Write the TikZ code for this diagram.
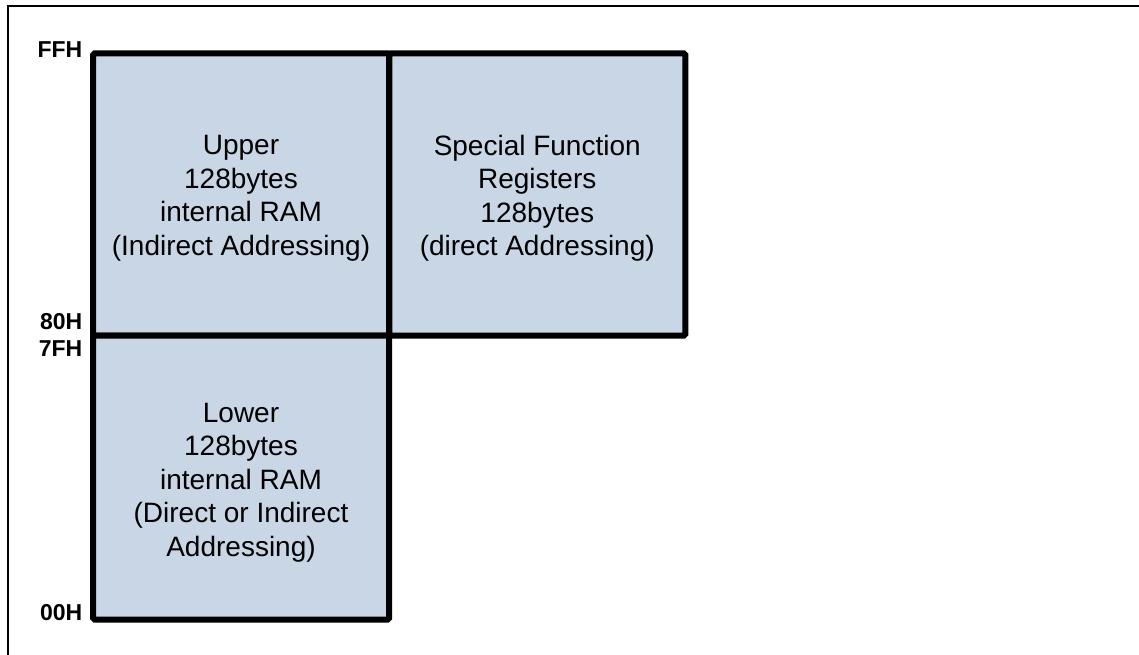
\documentclass[tikz,border=0pt]{standalone}
\usepackage{fontspec}
\setmainfont{Liberation Sans}
\definecolor{memfill}{RGB}{201,214,229}
\begin{document}
\begin{tikzpicture}[x=1pt,y=-1pt,
  membox/.style={draw=black, line width=6pt, fill=memfill, rounded corners=1.5pt,
    inner sep=0pt, minimum width=296pt},
  memtext/.style={align=center, inner sep=0pt,
    font=\fontsize{28}{33.5}\selectfont, text=black},
  addr/.style={anchor=base east, inner sep=0pt, font=\fontsize{23}{26}\selectfont\bfseries}]
\useasboundingbox (0,0) rectangle (1139,655);
% frame (only top and left edges visible)
\coordinate (fbl) at (7.5,655);
\coordinate (ftl) at (7.5,6.5);
\coordinate (ftr) at (1139,6.5);
\draw[line width=2pt] (fbl) -- (ftl) -- (ftr);
% memory blocks
\node[membox, minimum height=282pt] (upper) at (241,194.5) {};
\node[membox, minimum height=282pt] (sfr) at (537.25,194.5) {};
\node[membox, minimum height=284pt] (lower) at (241,477.5) {};
\node[memtext] (uppertxt) at ([yshift=-4pt]upper.center)
  {Upper\\128bytes\\internal RAM\\(Indirect Addressing)};
\node[memtext] (sfrtxt) at ([yshift=-4pt]sfr.center)
  {Special Function\\Registers\\128bytes\\(direct Addressing)};
\node[memtext] (lowertxt) at ([yshift=-5pt]lower.center)
  {Lower\\128bytes\\internal RAM\\(Direct or Indirect\\Addressing)};
% address labels
\node[addr] (ffh) at (82.5,58) {FFH};
\node[addr] (h80) at (82.5,329) {80H};
\node[addr] (h7f) at (82.5,356) {7FH};
\node[addr] (h00) at (82.5,620) {00H};
\end{tikzpicture}
\end{document}
